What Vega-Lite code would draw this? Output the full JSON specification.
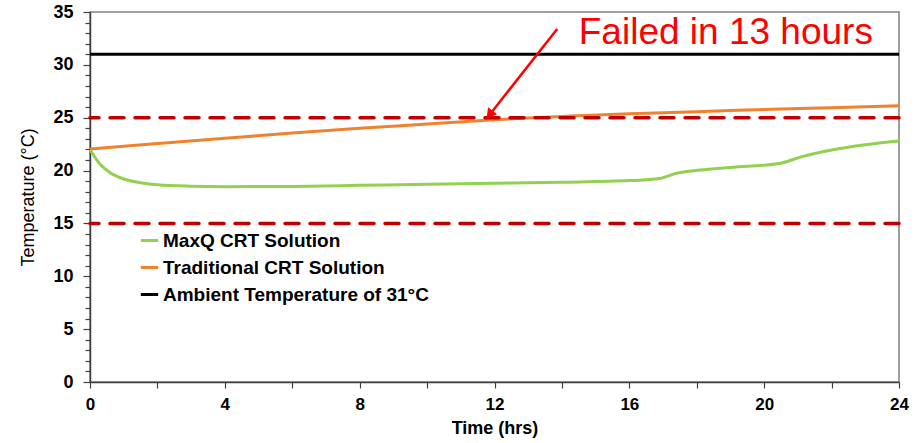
{
  "$schema": "https://vega.github.io/schema/vega-lite/v6.json",
  "width": 809,
  "height": 370,
  "autosize": {"type": "none"},
  "padding": {"left": 90, "top": 12, "right": 21, "bottom": 61},
  "background": "white",
  "title": {
    "text": "July Shipment Across North East US",
    "frame": "group",
    "anchor": "middle",
    "dx": -42,
    "offset": 8,
    "baseline": "alphabetic",
    "font": "Liberation Sans",
    "fontSize": 17,
    "fontWeight": "bold",
    "color": "#222222"
  },
  "config": {
    "view": {"stroke": "#808080", "strokeWidth": 1.5},
    "font": "Liberation Sans"
  },
  "datasets": {
    "series": [
      {"hour": 0, "temp": 22.0, "series": "MaxQ CRT Solution"},
      {"hour": 0.3, "temp": 20.6, "series": "MaxQ CRT Solution"},
      {"hour": 0.6, "temp": 19.8, "series": "MaxQ CRT Solution"},
      {"hour": 1.0, "temp": 19.2, "series": "MaxQ CRT Solution"},
      {"hour": 1.5, "temp": 18.85, "series": "MaxQ CRT Solution"},
      {"hour": 2.0, "temp": 18.65, "series": "MaxQ CRT Solution"},
      {"hour": 3.0, "temp": 18.52, "series": "MaxQ CRT Solution"},
      {"hour": 4.0, "temp": 18.48, "series": "MaxQ CRT Solution"},
      {"hour": 6.0, "temp": 18.5, "series": "MaxQ CRT Solution"},
      {"hour": 8.0, "temp": 18.6, "series": "MaxQ CRT Solution"},
      {"hour": 10.0, "temp": 18.7, "series": "MaxQ CRT Solution"},
      {"hour": 12.0, "temp": 18.8, "series": "MaxQ CRT Solution"},
      {"hour": 14.0, "temp": 18.9, "series": "MaxQ CRT Solution"},
      {"hour": 16.0, "temp": 19.05, "series": "MaxQ CRT Solution"},
      {"hour": 16.9, "temp": 19.25, "series": "MaxQ CRT Solution"},
      {"hour": 17.4, "temp": 19.75, "series": "MaxQ CRT Solution"},
      {"hour": 18.1, "temp": 20.05, "series": "MaxQ CRT Solution"},
      {"hour": 19.0, "temp": 20.3, "series": "MaxQ CRT Solution"},
      {"hour": 20.5, "temp": 20.7, "series": "MaxQ CRT Solution"},
      {"hour": 21.1, "temp": 21.3, "series": "MaxQ CRT Solution"},
      {"hour": 22.0, "temp": 21.95, "series": "MaxQ CRT Solution"},
      {"hour": 23.0, "temp": 22.45, "series": "MaxQ CRT Solution"},
      {"hour": 24.0, "temp": 22.8, "series": "MaxQ CRT Solution"},
      {"hour": 0, "temp": 22.05, "series": "Traditional CRT Solution"},
      {"hour": 2, "temp": 22.55, "series": "Traditional CRT Solution"},
      {"hour": 4, "temp": 23.05, "series": "Traditional CRT Solution"},
      {"hour": 6, "temp": 23.55, "series": "Traditional CRT Solution"},
      {"hour": 8, "temp": 24.0, "series": "Traditional CRT Solution"},
      {"hour": 10, "temp": 24.4, "series": "Traditional CRT Solution"},
      {"hour": 12, "temp": 24.8, "series": "Traditional CRT Solution"},
      {"hour": 13, "temp": 24.98, "series": "Traditional CRT Solution"},
      {"hour": 14, "temp": 25.12, "series": "Traditional CRT Solution"},
      {"hour": 16, "temp": 25.38, "series": "Traditional CRT Solution"},
      {"hour": 18, "temp": 25.57, "series": "Traditional CRT Solution"},
      {"hour": 20, "temp": 25.78, "series": "Traditional CRT Solution"},
      {"hour": 22, "temp": 25.95, "series": "Traditional CRT Solution"},
      {"hour": 24, "temp": 26.12, "series": "Traditional CRT Solution"},
      {"hour": 0, "temp": 31, "series": "Ambient Temperature of 31°C"},
      {"hour": 24, "temp": 31, "series": "Ambient Temperature of 31°C"}
    ],
    "limits": [{"temp": 25}, {"temp": 15}],
    "callout": [
      {"hour": 13.86, "temp": 33.4, "hourEnd": 11.78, "tempEnd": 24.98, "labelHour": 14.5, "labelTemp": 31.98, "label": "Failed in 13 hours"}
    ]
  },
  "encoding": {
    "y": {
      "field": "temp",
      "type": "quantitative",
      "scale": {"domain": [0, 35], "nice": false, "zero": true},
      "axis": {
        "title": "Temperature (°C)",
        "values": [0,1,2,3,4,5,6,7,8,9,10,11,12,13,14,15,16,17,18,19,20,21,22,23,24,25,26,27,28,29,30,31,32,33,34,35],
        "labelExpr": "datum.value % 5 === 0 ? datum.label : ''",
        "grid": false,
        "domainColor": "#404040",
        "domainWidth": 1.5,
        "tickColor": "#404040",
        "tickWidth": 1.2,
        "tickSize": {"condition": {"test": "datum.value % 5 === 0", "value": 7}, "value": 5},
        "labelFont": "Liberation Sans",
        "labelFontSize": 18,
        "labelFontWeight": "bold",
        "labelColor": "#000000",
        "labelPadding": 10,
        "labelOverlap": false,
        "labelFlush": false,
        "labelBound": false,
        "titleFont": "Liberation Sans",
        "titleFontSize": 18,
        "titleFontWeight": "normal",
        "titleColor": "#000000",
        "titlePadding": 15
      }
    }
  },
  "layer": [
    {
      "data": {"name": "series"},
      "mark": {"type": "line", "strokeWidth": 3, "interpolate": "monotone"},
      "encoding": {
        "x": {
          "field": "hour",
          "type": "quantitative",
          "scale": {"domain": [0, 24], "nice": false},
          "axis": {
            "title": "Time (hrs)",
            "values": [0,1,2,3,4,5,6,7,8,9,10,11,12,13,14,15,16,17,18,19,20,21,22,23,24],
            "labelExpr": "datum.value % 4 === 0 ? datum.label : ''",
            "grid": false,
            "domainColor": "#404040",
            "domainWidth": 1.5,
            "tickColor": "#404040",
            "tickWidth": 1.2,
            "tickSize": 6,
            "labelFont": "Liberation Sans Narrow, Liberation Sans",
            "labelFontSize": 17,
            "labelFontWeight": "bold",
            "labelColor": "#000000",
            "labelPadding": 8,
            "labelFlush": false,
            "labelOverlap": false,
            "labelBound": false,
            "titleFont": "Liberation Sans Narrow, Liberation Sans",
            "titleFontSize": 18,
            "titleFontWeight": "bold",
            "titleColor": "#000000",
            "titlePadding": 7
          }
        },
        "color": {
          "field": "series",
          "type": "nominal",
          "scale": {
            "domain": ["MaxQ CRT Solution", "Traditional CRT Solution", "Ambient Temperature of 31°C"],
            "range": ["#92D050", "#F0822D", "#000000"]
          },
          "legend": {
            "title": null,
            "orient": "none",
            "legendX": 49,
            "legendY": 218,
            "symbolType": "stroke",
            "symbolSize": 300,
            "symbolStrokeWidth": 3,
            "labelFont": "Liberation Sans",
            "labelFontSize": 19,
            "labelFontWeight": "bold",
            "labelColor": "#000000",
            "labelOffset": 3,
            "rowPadding": 6,
            "labelLimit": 500
          }
        }
      }
    },
    {
      "data": {"name": "limits"},
      "mark": {"type": "rule", "color": "#C00000", "strokeWidth": 3.5, "strokeDash": [14, 11], "strokeCap": "round"},
      "encoding": {}
    },
    {
      "data": {"name": "callout"},
      "mark": {"type": "rule", "color": "#FF0000", "strokeWidth": 2.5},
      "encoding": {
        "x": {"field": "hour", "type": "quantitative"},
        "x2": {"field": "hourEnd"},
        "y2": {"field": "tempEnd"}
      }
    },
    {
      "data": {"name": "callout"},
      "mark": {"type": "point", "shape": "triangle", "filled": true, "color": "#FF0000", "opacity": 1, "size": 130, "angle": 218, "xOffset": 3.5, "yOffset": -4.5},
      "encoding": {
        "x": {"field": "hourEnd", "type": "quantitative"},
        "y": {"field": "tempEnd", "type": "quantitative"}
      }
    },
    {
      "data": {"name": "callout"},
      "mark": {"type": "text", "color": "#FF0000", "font": "Liberation Sans", "fontSize": 37, "align": "left", "baseline": "alphabetic"},
      "encoding": {
        "x": {"field": "labelHour", "type": "quantitative"},
        "y": {"field": "labelTemp", "type": "quantitative"},
        "text": {"field": "label"}
      }
    }
  ]
}
